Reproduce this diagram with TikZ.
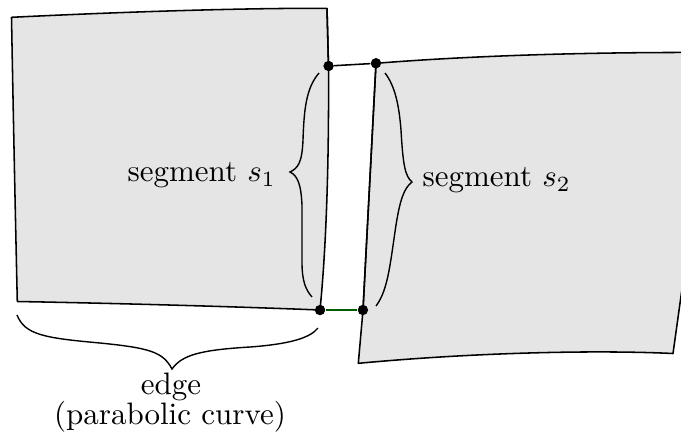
\documentclass[tikz,border=0pt]{standalone}
\begin{document}
\begin{tikzpicture}[x=0.3226pt,y=-0.3226pt,
  outline/.style={draw=black,line width=0.5pt,fill=gray!20,line join=round},
  bracestyle/.style={draw=black,line width=0.45pt},
  dot/.style={circle,fill=black,inner sep=0pt,minimum size=3.3pt},
  lbl/.style={inner sep=0pt,font=\normalsize}]
\useasboundingbox (0,0) rectangle (681,436);
\begin{scope}
\clip (0,0) rectangle (681,436);
% left sheet
\coordinate (LTL) at (11.5,17.3);
\coordinate (LTR) at (327,8.3);
\coordinate (LBL) at (17.3,301.5);
\node[dot] (A1) at (328.5,66) {};
\node[dot] (B1) at (320,310) {};
\node[dot] (A2) at (376,63.3) {};
\node[dot] (B2) at (363,310) {};
\path[outline] (LTL) .. controls (120,12) and (240,8) .. (LTR)
  -- (A1.center) .. controls (329,150) and (327,240) .. (B1.center)
  .. controls (220,306) and (100,303) .. (LBL)
  .. controls (15,200) and (13,100) .. cycle;
% right sheet
\coordinate (RTR) at (715,52.5);
\coordinate (RBR) at (673,353.5);
\coordinate (RBL) at (358.3,363.3);
\path[outline] (A2.center) .. controls (480,55) and (600,52) .. (RTR)
  -- (RBR) .. controls (600,350) and (480,352) .. (RBL)
  -- (B2.center) -- cycle;
\draw[line width=0.5pt] (A2.center) -- (B2.center);
\draw[line width=0.5pt] (LTR) -- (A1.center);
\end{scope}
% connectors between the sheets
\draw[line width=0.5pt] (A1) -- (A2);
\draw[line width=0.5pt,draw={rgb,255:red,0;green,90;blue,0}] (B1) -- (B2);
\node[dot] at (A1) {};
\node[dot] at (A2) {};
\node[dot] at (B1) {};
\node[dot] at (B2) {};
% brace s1
\coordinate (s1top) at (319,73);
\coordinate (s1tip) at (290,172);
\coordinate (s1bot) at (312,297);
\draw[bracestyle] (s1top) .. controls (306,88) and (304,110) .. (303,140)
  .. controls (302,163) and (298,168) .. (s1tip)
  .. controls (298,176) and (301,185) .. (302,205)
  -- (302,262) .. controls (302,282) and (306,290) .. (s1bot);
% brace s2
\coordinate (s2top) at (385,73);
\coordinate (s2tip) at (412,182);
\coordinate (s2bot) at (376,306);
\draw[bracestyle] (s2top) .. controls (395,86) and (399,105) .. (401,130)
  .. controls (403,165) and (405,176) .. (s2tip)
  .. controls (404,188) and (400,200) .. (396,225)
  .. controls (390,265) and (388,290) .. (s2bot);
% brace edge
\coordinate (etop) at (17,315);
\coordinate (etip) at (172,369);
\coordinate (ebot) at (318,328);
\draw[bracestyle] (etop) .. controls (25,335) and (45,338) .. (100,343)
  .. controls (150,348) and (163,352) .. (etip)
  .. controls (182,355) and (200,350) .. (250,347)
  .. controls (290,344) and (310,338) .. (ebot);
% labels
\node[lbl,anchor=base west] (ls1) at (127,181.7) {segment $s_1$};
\node[lbl,anchor=base west] (ls2) at (422,186.7) {segment $s_2$};
\node[lbl,anchor=base] (le1) at (171,394.5) {edge};
\node[lbl,anchor=base] (le2) at (170,424) {(parabolic curve)};
\end{tikzpicture}
\end{document}
